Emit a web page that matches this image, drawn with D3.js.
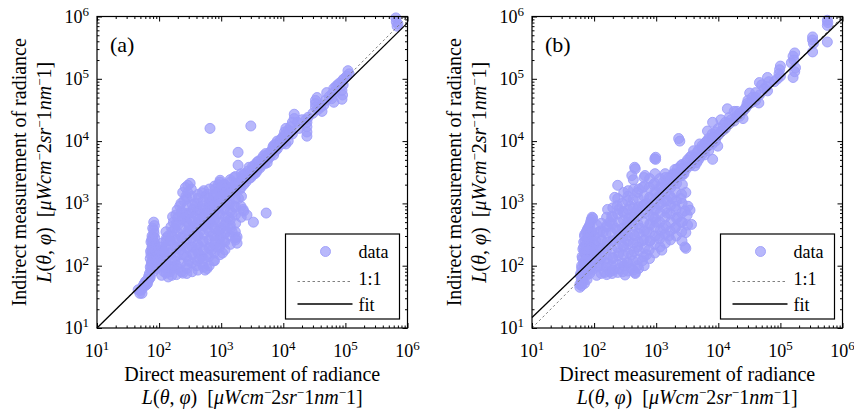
<!DOCTYPE html>
<html>
<head>
<meta charset="utf-8">
<script src="https://cdn.jsdelivr.net/npm/d3@7"></script>
<style>
  body { margin: 0; background: #fff; }
  text { font-family: "Liberation Serif", "Times New Roman", serif; fill: #000; }
</style>
</head>
<body>
<div id="chart"></div>
<script>
// direct (x) vs indirect (y) radiance
var pointsA = [
  [650000, 950000], [660000, 820000], [700000, 760000], [680000, 700000],
  [110000, 135000], [115000, 120000], [105000, 110000], [95000, 100000], [90000, 95000],
  [92000, 80000], [88000, 65000], [90000, 55000], [88000, 47000], [80000, 85000],
  [75000, 80000], [70000, 75000], [65000, 70000], [68000, 62000], [62000, 58000],
  [60000, 48000], [65000, 42000], [55000, 52000], [50000, 60000], [48000, 45000],
  [45000, 38000], [42000, 30000], [40000, 35000], [35000, 50000], [33000, 45000],
  [33000, 40000], [33000, 35000], [36000, 32000], [30000, 28000], [25000, 24000],
  [24000, 20000], [24000, 17000], [24000, 14000], [24000, 12000], [23000, 22000],
  [15000, 27000], [15000, 23000], [14000, 20000], [13000, 17000], [12000, 15000],
  [11000, 16000], [10500, 14000], [10000, 12000], [9500, 11000], [9000, 10500],
  [8500, 9500], [8000, 10000], [7500, 9000], [7000, 7500], [6500, 7000], [6000, 6500],
  [6000, 5500], [5500, 6000], [5000, 5000], [4500, 4500], [4500, 5200], [4000, 4000],
  [3800, 3500], [3500, 4200], [3500, 3000], [3000, 3200], [3000, 2600], [2800, 3800],
  [2600, 2800], [2500, 2200], [2200, 2500], [2000, 2000], [2000, 1700], [1800, 2100],
  [12000, 10000], [11000, 9000], [9000, 9000], [8000, 7500], [7000, 6000], [5500, 4500],
  [5000, 4300], [4200, 3700], [2200, 2800], [2700, 3300], [3200, 3900], [3800, 4600],
  [5200, 6300], [7000, 8500], [11000, 13000], [17000, 20000], [20000, 22000],
  [18000, 16000],
  [2300, 2000], [2400, 3000], [2800, 2500], [3200, 3500], [3300, 2900], [3700, 3200],
  [4000, 4800], [4300, 4000], [4800, 5800], [5000, 4600], [5700, 5200], [6300, 6000],
  [6800, 8000], [7500, 7000], [8500, 8500], [9500, 9000], [10000, 9500], [10500, 11500],
  [12000, 12500], [13000, 14500], [14000, 13000],
  [660, 16000], [3000, 17500], [1870, 6600], [1870, 4100], [5300, 700], [3300, 500],
  [2600, 650], [2250, 800], [2300, 750],
  [316, 2100], [265, 1800], [290, 1950], [330, 1700], [240, 1500], [270, 1300],
  [195, 780], [215, 900], [490, 1480], [420, 1200], [560, 1300], [960, 2350], [900, 2000],
  [800, 1700], [1100, 2000], [1200, 1800], [1400, 2200], [1600, 2600], [1000, 1500],
  [700, 1100], [650, 900], [600, 1400], [380, 1000], [350, 800], [300, 700],
  [100, 110], [120, 130], [150, 160], [180, 200], [200, 250], [230, 280], [260, 300],
  [300, 350], [350, 400], [400, 450], [450, 520], [500, 600], [600, 700], [700, 800],
  [800, 900], [900, 1000], [1000, 1100], [1200, 1300], [1400, 1500], [1600, 1700],
  [150, 100], [180, 120], [200, 90], [240, 76], [280, 90], [300, 120], [350, 150],
  [400, 180], [450, 200], [500, 250], [550, 85], [590, 90], [500, 110], [450, 130],
  [600, 150], [650, 200], [700, 300], [800, 250], [900, 350], [1000, 400], [1050, 160],
  [1100, 250], [1200, 500], [1300, 600], [1500, 700], [1800, 290], [1800, 230],
  [1700, 280], [1600, 900], [1900, 1200], [800, 500], [700, 450], [600, 400], [400, 300],
  [300, 200], [250, 150], [220, 180], [140, 66], [150, 80], [170, 95], [130, 90],
  [120, 80], [350, 250], [450, 350], [550, 450], [650, 550], [750, 650], [900, 700],
  [1100, 800], [1300, 1000], [400, 100], [480, 140], [700, 180], [850, 200], [950, 220],
  [1000, 300], [1200, 350], [1400, 450], [1500, 350], [750, 120],
  [110, 70], [112, 95], [108, 130], [115, 180], [110, 230],
  [130, 76], [128, 105], [133, 142], [127, 200], [132, 280], [129, 350],
  [160, 70], [158, 90], [163, 122], [157, 160], [162, 220], [160, 300], [155, 420], [165, 610],
  [190, 72], [193, 100], [188, 140], [192, 190], [187, 260], [195, 350], [190, 480], [186, 650],
  [230, 80], [226, 110], [234, 150], [229, 210], [232, 290], [227, 400], [235, 550],
  [230, 750], [225, 1000],
  [280, 75], [285, 105], [276, 140], [283, 190], [279, 260], [287, 360], [281, 500],
  [275, 680], [284, 900], [278, 1200], [290, 1500],
  [340, 80], [335, 110], [345, 150], [338, 200], [342, 280], [336, 380], [347, 520],
  [340, 700], [344, 950], [337, 1300],
  [420, 85], [415, 120], [426, 160], [418, 220], [424, 300], [413, 410], [428, 560],
  [420, 760], [416, 1000], [425, 1400],
  [520, 95], [515, 130], [526, 175], [518, 240], [524, 320], [512, 440], [528, 600],
  [520, 820], [516, 1100], [523, 1600],
  [640, 100], [635, 140], [646, 190], [638, 260], [644, 350], [632, 480], [648, 650],
  [640, 880], [636, 1200], [645, 1700],
  [780, 120], [775, 160], [786, 220], [778, 300], [784, 400], [772, 550], [788, 750],
  [780, 1000], [776, 1400], [785, 1900],
  [950, 150], [945, 200], [956, 270], [948, 370], [954, 500], [942, 680], [958, 920],
  [950, 1250], [946, 1700], [955, 2200],
  [1150, 180], [1140, 240], [1160, 330], [1145, 450], [1155, 600], [1138, 820],
  [1162, 1100], [1150, 1500], [1145, 2000],
  [1400, 220], [1390, 300], [1410, 400], [1395, 550], [1405, 750], [1388, 1000],
  [1412, 1350], [1400, 1800], [1395, 2400],
  [1700, 260], [1690, 350], [1710, 480], [1695, 650], [1705, 880], [1688, 1200],
  [1712, 1600], [1700, 2100], [1695, 2700],
  [2100, 600], [2080, 900], [2120, 1300], [2090, 1800], [2110, 2400], [2100, 3000],
  [77, 300], [78, 270], [80, 250], [79, 220], [77, 200], [76, 180], [78, 160], [80, 140],
  [77, 120], [75, 110], [76, 100], [78, 90], [80, 80], [82, 500], [82, 370], [85, 280],
  [85, 230], [84, 190], [86, 150], [83, 130], [74, 240], [73, 170], [72, 130], [74, 85],
  [70, 75], [68, 68], [65, 60], [62, 57], [60, 55], [57, 50], [55, 47], [53, 42], [50, 40],
  [49, 36], [46, 41], [53, 36], [60, 48], [65, 52], [70, 62], [90, 90], [95, 100],
  [76, 105], [79, 115], [81, 175], [78, 210], [82, 240], [76, 260], [80, 290], [83, 330],
  [79, 400], [84, 440], [72, 95], [74, 150], [88, 110], [88, 170], [92, 140], [96, 120],
  [86, 210], [72, 65], [67, 58], [58, 52], [63, 50],
  [90, 120], [100, 150], [110, 200], [120, 170], [130, 250], [140, 300], [160, 350],
  [150, 250], [180, 400], [170, 500], [200, 600], [200, 450], [230, 700], [250, 1100],
  [260, 600], [280, 500], [300, 450], [320, 550], [400, 650], [450, 800], [500, 900],
  [550, 700], [650, 1000], [750, 1300], [850, 1400], [1000, 1800], [1200, 1500]
];

var pointsB = [
  [570000, 870000], [570000, 720000], [580000, 800000], [570000, 390000],
  [330000, 470000], [330000, 420000], [340000, 370000], [330000, 270000],
  [170000, 260000], [160000, 230000], [165000, 200000], [170000, 130000],
  [160000, 105000], [175000, 150000], [150000, 180000], [100000, 160000],
  [97000, 140000], [95000, 120000], [100000, 110000], [90000, 100000], [80000, 90000],
  [62000, 105000], [65000, 90000], [62000, 64000], [60000, 75000], [55000, 70000],
  [50000, 80000], [46000, 87000], [46000, 55000], [45000, 41000], [40000, 60000],
  [35000, 50000], [32000, 59000], [30000, 45000], [29000, 40000], [28000, 35000],
  [25000, 30000], [25000, 23000], [22000, 28000], [20000, 25000], [18000, 30000],
  [14000, 33000], [15000, 24000], [13000, 20000], [12000, 18000], [11000, 22000],
  [10000, 16000], [9800, 8300], [9500, 12000], [9000, 14000], [8100, 20000],
  [8000, 11000], [8100, 5100], [7500, 9000], [6700, 14500], [7000, 7000], [6500, 10000],
  [6000, 8500], [6000, 6000], [5500, 7500], [5000, 9000], [5000, 5500], [4500, 6500],
  [4500, 4500], [4000, 7000], [4000, 5000], [3500, 4000], [3500, 5500], [3000, 4500],
  [3000, 3500], [2800, 3000], [2500, 4000], [2300, 11000], [2400, 10000], [2200, 3000],
  [2000, 2500], [2000, 3500], [1800, 2800], [1500, 2000], [1400, 2600], [1200, 1800],
  [1000, 1500], [980, 5500], [950, 5200], [900, 2000],
  [1100, 1300], [1300, 1600], [1300, 2200], [1600, 1900], [1600, 2600], [1900, 2200],
  [1900, 3000], [2200, 2600], [2200, 3600], [2600, 3000], [2600, 4200], [3000, 3800],
  [3200, 5000], [3700, 4200], [3700, 5800], [4200, 5500], [4200, 4000], [4800, 5000],
  [4800, 7200], [5500, 6200], [5500, 8500], [6200, 7500], [6200, 9500], [7000, 8500],
  [7000, 11000], [8000, 9000], [8000, 13000], [9000, 10000], [9000, 12000],
  [10000, 12500], [11000, 14000], [12000, 15000], [13000, 16000], [15000, 19000],
  [16000, 22000], [18000, 21000], [20000, 30000], [22000, 25000], [27000, 33000],
  [30000, 38000], [35000, 42000], [40000, 50000], [40000, 45000],
  [3000, 190], [3700, 460], [3000, 340], [3500, 780], [2900, 760], [2900, 200],
  [2500, 500], [2200, 600], [2000, 900], [1800, 1200], [1500, 700], [1300, 400],
  [1230, 178], [1100, 300], [1000, 500], [1000, 800], [1200, 1000], [2500, 1200],
  [3000, 1500], [2000, 400], [1600, 300], [1500, 1100], [800, 250], [700, 150],
  [600, 120], [500, 100], [460, 78], [460, 75], [315, 71], [400, 90], [350, 110],
  [300, 100], [250, 90], [200, 85], [148, 78], [180, 80], [400, 150], [500, 200],
  [600, 250], [700, 350], [800, 450], [900, 600], [550, 400], [450, 300], [350, 250],
  [300, 200], [250, 160], [200, 130], [160, 110], [150, 200], [200, 250], [250, 300],
  [300, 350], [350, 500], [400, 600], [450, 700], [500, 800], [600, 900], [700, 1000],
  [800, 1200], [240, 1200], [215, 1250], [405, 2800], [460, 3600], [450, 3800],
  [660, 2800], [980, 5100], [240, 1950], [300, 1500], [350, 1300], [500, 1500],
  [600, 1800], [250, 800], [200, 600], [180, 500], [220, 400], [300, 700], [380, 900],
  [120, 180], [130, 250], [110, 150], [140, 350], [160, 420], [130, 130], [120, 110],
  [110, 70], [113, 95], [108, 130], [112, 180], [107, 250], [114, 340], [110, 450],
  [130, 75], [127, 100], [134, 140], [129, 190], [133, 260], [126, 360], [131, 480],
  [160, 72], [157, 95], [164, 130], [158, 180], [163, 240], [156, 330], [162, 450],
  [159, 600], [165, 800],
  [195, 75], [191, 100], [199, 135], [193, 185], [198, 250], [190, 340], [196, 460],
  [192, 620], [200, 850],
  [240, 78], [236, 105], [245, 145], [238, 195], [243, 270], [234, 370], [247, 500],
  [240, 680], [237, 920],
  [290, 80], [285, 110], [296, 150], [288, 210], [294, 290], [283, 400], [298, 540],
  [290, 740], [286, 1000],
  [350, 82], [344, 115], [357, 160], [348, 220], [354, 300], [342, 420], [359, 580],
  [350, 800], [346, 1100], [353, 1600],
  [430, 85], [424, 120], [437, 170], [428, 230], [434, 320], [421, 440], [439, 600],
  [430, 850], [426, 1150], [433, 1700], [428, 2400],
  [520, 90], [514, 125], [527, 175], [518, 240], [524, 330], [511, 460], [529, 640],
  [520, 880], [516, 1200], [523, 1700],
  [640, 100], [633, 140], [648, 190], [637, 260], [645, 360], [630, 500], [650, 700],
  [640, 950], [635, 1300], [644, 1900], [638, 2600],
  [780, 130], [772, 180], [789, 250], [776, 340], [785, 470], [769, 650], [792, 900],
  [780, 1250], [775, 1800], [784, 2500],
  [950, 160], [940, 220], [960, 300], [945, 420], [955, 580], [936, 800], [964, 1100],
  [950, 1500], [944, 2100], [956, 3000],
  [1150, 200], [1138, 270], [1162, 370], [1144, 500], [1156, 700], [1132, 950],
  [1168, 1300], [1150, 1800], [1145, 2500],
  [1400, 230], [1385, 320], [1415, 440], [1392, 600], [1408, 820], [1380, 1100],
  [1420, 1500], [1400, 2100], [1395, 3000],
  [1700, 260], [1685, 360], [1715, 500], [1692, 680], [1708, 930], [1680, 1300],
  [1720, 1800], [1700, 2500],
  [2100, 300], [2080, 420], [2120, 580], [2090, 800], [2110, 1100], [2070, 1500],
  [2130, 2100], [2100, 2900],
  [2600, 250], [2570, 350], [2630, 500], [2580, 700], [2620, 1000], [2560, 1400],
  [2640, 2000], [2600, 2800], [2590, 3600],
  [3200, 450], [3150, 650], [3250, 900],
  [93, 600], [95, 580], [85, 450], [80, 400], [75, 350], [70, 300], [72, 250], [75, 220],
  [68, 200], [70, 170], [73, 150], [65, 130], [68, 110], [70, 95], [63, 90], [65, 80],
  [60, 70], [62, 60], [59, 50], [63, 48], [59, 45], [66, 55], [80, 300], [85, 250],
  [90, 200], [88, 150], [78, 130], [82, 100], [90, 120], [95, 160], [100, 300],
  [100, 220], [92, 350], [88, 90], [75, 70], [85, 75],
  [62, 52], [64, 58], [66, 65], [61, 75], [67, 85], [63, 100], [69, 115], [64, 140],
  [71, 160], [66, 185], [73, 210], [68, 240], [76, 270], [71, 320], [78, 380], [83, 420],
  [88, 500], [90, 550], [86, 330], [82, 280], [92, 250], [96, 180], [84, 200], [79, 175],
  [74, 125], [80, 110], [86, 95], [92, 85], [77, 60], [70, 52]
];

var fitA = [[10, 10], [1e6, 7.9e5]];
var fitB = [[10, 14.7], [1e6, 9.3e5]];
var oneToOne = [[10, 10], [1e6, 1e6]];

var majorTicks = [10, 100, 1e3, 1e4, 1e5, 1e6];
var tickExponents = ["1", "2", "3", "4", "5", "6"];
var panelLabels = ["(a)", "(b)"];
var legendLabels = ["data", "1:1", "fit"];

var pointColor = "#9d9dfa";

var width = 854, height = 415;
var pw = 310.5, ph = 311.5;

var svg = d3.select("#chart")
  .append("svg")
    .attr("width", width)
    .attr("height", height);

svg.append("rect").attr("width", width).attr("height", height).attr("fill", "#fff");

var panels = [
  {left: 97, top: 16.5, points: pointsA, fit: fitA, label: panelLabels[0]},
  {left: 532, top: 16.5, points: pointsB, fit: fitB, label: panelLabels[1]}
];

panels.forEach(function(p) { drawPanel(p); });

function drawPanel(p) {
  var g = svg.append("g")
    .attr("transform", "translate(" + p.left + "," + p.top + ")");

  var x = d3.scaleLog().domain([10, 1e6]).range([0, pw]);
  var y = d3.scaleLog().domain([10, 1e6]).range([ph, 0]);

  var minor = x.ticks().filter(function(t) { return majorTicks.indexOf(t) < 0; });

  // points
  g.append("g")
    .selectAll("circle")
    .data(p.points)
    .enter().append("circle")
      .attr("cx", function(d) { return x(d[0]); })
      .attr("cy", function(d) { return y(d[1]); })
      .attr("r", 5)
      .style("fill", pointColor)
      .style("fill-opacity", 0.72)
      .style("stroke", pointColor)
      .style("stroke-opacity", 0.9)
      .style("stroke-width", 1);

  var line = d3.line()
    .x(function(d) { return x(d[0]); })
    .y(function(d) { return y(d[1]); });

  g.append("path").datum(oneToOne)
    .attr("d", line)
    .attr("fill", "none")
    .attr("stroke", "#808080")
    .attr("stroke-width", 1)
    .attr("stroke-dasharray", "2.5,2.5");

  g.append("path").datum(p.fit)
    .attr("d", line)
    .attr("fill", "none")
    .attr("stroke", "#000")
    .attr("stroke-width", 1.3);

  // ticks on all four sides, pointing inward
  var sides = [
    [d3.axisBottom, x, "translate(0," + ph + ")"],
    [d3.axisTop, x, "translate(0,0)"],
    [d3.axisLeft, y, "translate(0,0)"],
    [d3.axisRight, y, "translate(" + pw + ",0)"]
  ];
  sides.forEach(function(s) {
    g.append("g").attr("transform", s[2])
      .call(s[0](s[1]).tickValues(majorTicks).tickSize(-5).tickFormat(""))
      .call(function(a) { a.select(".domain").remove(); });
    g.append("g").attr("transform", s[2])
      .call(s[0](s[1]).tickValues(minor).tickSize(-2.5).tickFormat(""))
      .call(function(a) { a.select(".domain").remove(); });
  });

  g.append("rect")
    .attr("width", pw).attr("height", ph)
    .attr("fill", "none")
    .attr("stroke", "#000")
    .attr("stroke-width", 1.2);

  // tick labels
  majorTicks.forEach(function(t, i) {
    var lx = g.append("text")
      .attr("x", x(t))
      .attr("y", ph + 29)
      .attr("text-anchor", "middle")
      .attr("font-size", 18);
    lx.append("tspan").text("10");
    lx.append("tspan").attr("font-size", 13).attr("dy", -7).text(tickExponents[i]);

    var ly = g.append("text")
      .attr("x", -8)
      .attr("y", y(t) + 6)
      .attr("text-anchor", "end")
      .attr("font-size", 18);
    ly.append("tspan").text("10");
    ly.append("tspan").attr("font-size", 13).attr("dy", -7).text(tickExponents[i]);
  });

  g.append("text")
    .attr("x", 13).attr("y", 35)
    .attr("font-size", 22)
    .text(p.label);

  // axis titles
  g.append("text")
    .attr("x", pw / 2).attr("y", ph + 53)
    .attr("text-anchor", "middle")
    .attr("font-size", 20)
    .text("Direct measurement of radiance");
  unitText(g.append("text")
    .attr("x", pw / 2).attr("y", ph + 76)
    .attr("text-anchor", "middle")
    .attr("font-size", 20));

  g.append("text")
    .attr("transform", "rotate(-90)")
    .attr("x", -ph / 2).attr("y", -71)
    .attr("text-anchor", "middle")
    .attr("font-size", 20)
    .text("Indirect measurement of radiance");
  unitText(g.append("text")
    .attr("transform", "rotate(-90)")
    .attr("x", -ph / 2).attr("y", -46)
    .attr("text-anchor", "middle")
    .attr("font-size", 20));

  // legend
  var lg = g.append("g").attr("transform", "translate(" + (pw - 122) + "," + (ph - 94) + ")");
  lg.append("rect")
    .attr("width", 114).attr("height", 85)
    .attr("fill", "#fff")
    .attr("stroke", "#000")
    .attr("stroke-width", 1.2);
  lg.append("circle")
    .attr("cx", 40).attr("cy", 17.5).attr("r", 5)
    .style("fill", pointColor).style("fill-opacity", 0.72)
    .style("stroke", pointColor).style("stroke-opacity", 0.9);
  lg.append("line")
    .attr("x1", 12).attr("x2", 67).attr("y1", 47.5).attr("y2", 47.5)
    .attr("stroke", "#808080").attr("stroke-dasharray", "2.5,2.5");
  lg.append("line")
    .attr("x1", 12).attr("x2", 67).attr("y1", 70).attr("y2", 70)
    .attr("stroke", "#000").attr("stroke-width", 1.3);
  legendLabels.forEach(function(l, i) {
    lg.append("text")
      .attr("x", 73).attr("y", 24 + i * 26.5)
      .attr("font-size", 18)
      .text(l);
  });
}

function unitText(t) {
  var parts = [
    ["L", "italic"], ["(", ""], ["\u03b8", "italic"], [", ", ""], ["\u03c6", "italic"],
    [")\u00a0\u00a0[", ""], ["\u03bcWcm", "italic"], ["\u2212", "sup"], ["2", ""],
    ["sr", "italic"], ["\u2212", "sup"], ["1", ""], ["nm", "italic"], ["\u2212", "sup"],
    ["1]", ""]
  ];
  var raised = false;
  parts.forEach(function(pt) {
    var s = t.append("tspan").text(pt[0]);
    if (pt[1] === "italic") s.attr("font-style", "italic");
    if (pt[1] === "sup") {
      s.attr("font-size", 13).attr("dy", -7);
      raised = true;
    } else if (raised) {
      s.attr("dy", 7);
      raised = false;
    }
  });
}
</script>
</body>
</html>
